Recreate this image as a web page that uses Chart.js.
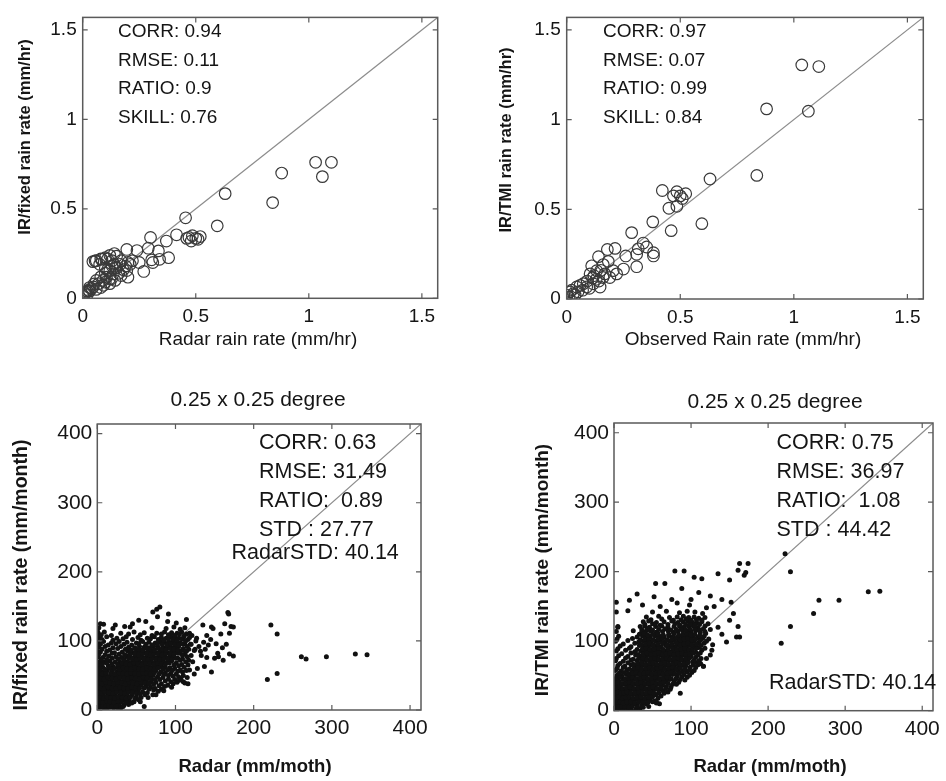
<!DOCTYPE html>
<html>
<head>
<meta charset="utf-8">
<script src="https://cdn.jsdelivr.net/npm/chart.js@4/dist/chart.umd.min.js"></script>
<style>
  html, body { margin: 0; padding: 0; background: #fff; }
  #wrap { position: relative; width: 946px; height: 781px; background: #fff; overflow: hidden; }
  canvas { position: absolute; }
</style>
</head>
<body>
<div id="wrap">
  <canvas id="p1" width="470" height="360" style="left:0;top:0"></canvas>
  <canvas id="p2" width="466" height="360" style="left:480px;top:0"></canvas>
  <canvas id="p3" width="470" height="411" style="left:0;top:370px"></canvas>
  <canvas id="p4" width="466" height="411" style="left:480px;top:370px"></canvas>
</div>
<script>
// --- tick labels and axis limits ---
const hourTicks = [0, 0.5, 1, 1.5];
const monthTicks = [0, 100, 200, 300, 400];
const hourOneToOne = [0, 1.57];
const monthOneToOne = [0, 414];

// --- IR/fixed vs radar, mm/hr ---
const fixedHourly = [
  [1.03,0.76],[1.10,0.76],[1.06,0.68],[0.88,0.70],[0.84,0.535],[0.63,0.585],[0.595,0.405],[0.455,0.45],
  [0.52,0.345],[0.50,0.335],[0.485,0.35],[0.46,0.335],[0.48,0.32],[0.51,0.33],[0.47,0.34],
  [0.415,0.355],[0.37,0.32],[0.38,0.227],[0.34,0.218],[0.335,0.265],[0.30,0.34],[0.31,0.20],[0.305,0.215],
  [0.29,0.28],[0.27,0.15],[0.24,0.267],[0.20,0.118],[0.195,0.273],[0.21,0.19],[0.195,0.155],[0.15,0.236],
  [0.165,0.19],[0.145,0.172],[0.12,0.155],[0.105,0.118],[0.10,0.227],[0.085,0.218],[0.055,0.209],[0.045,0.205],
  [0.075,0.19],[0.09,0.10],[0.07,0.082],[0.047,0.064],[0.025,0.045],[0.01,0.027],[0.015,0.035],[0.04,0.055],
  [0.135,0.136],[0.17,0.127],[0.12,0.082],[0.092,0.073],[0.143,0.10],[0.128,0.109],
  [0.06,0.21],[0.08,0.22],[0.11,0.22],[0.13,0.21],[0.12,0.24],[0.14,0.25],
  [0.05,0.08],[0.06,0.10],[0.08,0.12],[0.10,0.14],[0.11,0.16],[0.13,0.18],[0.15,0.17],[0.16,0.14],
  [0.18,0.16],[0.19,0.18],[0.20,0.20],[0.22,0.21],[0.25,0.20],[0.17,0.21],[0.14,0.19],[0.10,0.17],
  [0.03,0.04],[0.02,0.02],[0.005,0.01],[0.0,0.02],[0.03,0.06],[0.06,0.05],[0.08,0.06],[0.10,0.09],[0.12,0.11],[0.02,0.04]
];

// --- IR/TMI vs observed, mm/hr ---
const tmiHourly = [
  [1.035,1.305],[1.11,1.296],[0.88,1.06],[1.064,1.047],[0.837,0.689],[0.631,0.669],[0.595,0.42],
  [0.421,0.605],[0.485,0.598],[0.524,0.587],[0.509,0.56],[0.50,0.575],[0.47,0.575],[0.485,0.517],[0.45,0.506],
  [0.379,0.43],[0.46,0.381],[0.286,0.37],[0.337,0.312],[0.352,0.29],[0.382,0.258],[0.382,0.24],[0.315,0.28],
  [0.308,0.249],[0.26,0.24],[0.308,0.18],[0.25,0.167],[0.179,0.276],[0.213,0.282],[0.14,0.236],[0.11,0.185],
  [0.183,0.21],[0.205,0.158],[0.168,0.14],[0.142,0.10],[0.114,0.117],[0.073,0.085],[0.044,0.067],[0.022,0.049],
  [0.0,0.022],[0.0,0.004],[0.015,0.04],[0.059,0.076],[0.088,0.067],[0.117,0.085],[0.147,0.067],[0.07,0.049],
  [0.037,0.022],[0.01,0.01],[0.161,0.192],[0.132,0.158],[0.103,0.14],[0.19,0.12],[0.22,0.14],
  [0.03,0.03],[0.05,0.04],[0.09,0.10],[0.12,0.13],[0.15,0.16],[0.10,0.06],[0.13,0.11],[0.16,0.12]
];

// --- IR/fixed vs radar, mm/month ---
const fixedMonthly = [
  [1,2],[4,4],[8,3],[12,2],[16,4],[21,3],[27,2],[30,3],
  [1,9],[5,8],[9,10],[14,8],[18,10],[23,9],[28,8],[34,7],[40,8],
  [2,15],[6,14],[10,16],[15,15],[20,14],[25,16],[30,15],[35,14],[41,13],[47,12],[55,12],
  [1,21],[5,22],[9,20],[14,21],[19,22],[24,20],[29,21],[34,22],[39,20],[44,21],[50,19],[56,18],[65,18],
  [3,28],[7,27],[12,29],[17,28],[22,27],[27,29],[32,28],[37,27],[42,29],[47,28],[52,27],[58,26],[64,25],[71,22],[75,22],
  [1,35],[6,34],[11,36],[16,35],[21,34],[26,36],[31,35],[36,34],[41,36],[46,35],[51,34],[56,36],[62,34],[68,33],[74,31],[82,30],[85,28],
  [3,42],[8,41],[13,43],[18,42],[23,41],[28,43],[33,42],[38,41],[43,43],[48,42],[53,41],[58,43],[63,42],[69,41],[75,40],[82,38],[90,36],[97,38],[95,33],
  [1,49],[6,48],[11,50],[16,49],[21,48],[26,50],[31,49],[36,48],[41,50],[46,49],[51,48],[56,50],[61,49],[66,48],[71,50],[77,48],[84,47],[91,45],[99,44],[107,45],
  [3,56],[8,55],[13,57],[19,56],[25,55],[30,57],[35,56],[40,55],[45,57],[50,56],[55,55],[60,57],[65,56],[70,55],[75,57],[81,55],[87,54],[94,53],[101,52],[110,50],
  [1,63],[7,62],[14,64],[20,63],[26,62],[31,64],[36,63],[41,62],[46,64],[51,63],[56,62],[61,64],[66,63],[71,62],[76,64],[81,63],[87,62],[93,61],[99,60],[106,58],[114,57],
  [3,70],[9,69],[16,71],[23,70],[29,69],[34,71],[39,70],[44,69],[49,71],[54,70],[59,69],[64,71],[69,70],[74,69],[79,71],[84,70],[89,69],[95,71],[101,68],[108,66],[116,65],
  [1,77],[7,76],[15,78],[24,77],[31,76],[37,78],[42,77],[47,76],[52,78],[57,77],[62,76],[67,78],[72,77],[77,76],[82,78],[87,77],[92,76],[97,78],[103,75],[109,74],[117,72],
  [4,84],[12,85],[22,83],[32,84],[39,85],[45,83],[50,84],[55,85],[60,83],[65,84],[70,85],[75,83],[80,84],[85,85],[90,83],[95,84],[100,85],[106,82],[112,81],[120,79],
  [2,91],[10,92],[20,90],[30,92],[40,91],[48,90],[54,92],[60,91],[66,90],[72,92],[78,91],[84,90],[89,92],[94,91],[99,90],[104,92],[110,89],[117,88],[124,86],
  [1,98],[8,99],[18,97],[28,99],[38,98],[50,97],[58,99],[66,98],[74,97],[80,99],[86,98],[91,97],[96,99],[101,98],[106,97],[112,96],[119,95],
  [3,105],[12,106],[25,104],[37,106],[52,105],[64,104],[73,106],[82,105],[88,104],[94,106],[99,105],[104,104],[110,103],[116,102],
  [1,112],[9,113],[30,111],[47,113],[60,112],[76,111],[86,113],[95,112],[102,111],[108,113],[114,110],[121,108],
  [2,119],[20,118],[42,120],[70,119],[88,118],[98,120],[106,117],[112,119],
  [3,6],[7,5],[11,7],[15,6],[19,5],[24,6],[33,5],
  [3,12],[7,11],[12,13],[16,12],[21,11],[26,13],[31,12],[37,11],[44,10],
  [4,18],[8,17],[12,19],[17,18],[22,17],[27,19],[32,18],[37,17],[42,18],[48,16],[53,15],
  [2,25],[6,24],[10,26],[15,25],[20,24],[25,26],[30,25],[35,24],[40,26],[45,25],[50,24],[55,23],[61,22],
  [4,32],[9,31],[14,33],[19,32],[24,31],[29,33],[34,32],[39,31],[44,33],[49,32],[54,31],[60,32],[66,30],[72,29],[78,27],
  [1,39],[6,38],[11,40],[16,39],[21,38],[26,40],[31,39],[36,38],[41,40],[46,39],[51,38],[56,40],[61,39],[66,38],[72,37],[79,35],[86,34],
  [4,46],[9,45],[14,47],[19,46],[24,45],[29,47],[34,46],[39,45],[44,47],[49,46],[54,45],[59,47],[64,46],[69,45],[74,44],[80,44],[87,42],[94,41],[102,40],
  [1,53],[6,52],[11,54],[17,53],[22,52],[28,54],[33,53],[38,52],[43,54],[48,53],[53,52],[58,54],[63,53],[68,52],[73,54],[79,52],[85,51],[91,50],[97,49],[104,48],
  [4,60],[10,59],[16,61],[22,60],[28,59],[33,61],[38,60],[43,59],[48,61],[53,60],[58,59],[63,61],[68,60],[73,59],[78,61],[84,59],[90,58],[96,57],[103,56],[109,55],
  [1,67],[6,66],[12,68],[19,67],[26,66],[32,68],[37,67],[42,66],[47,68],[52,67],[57,66],[62,68],[67,67],[72,66],[77,68],[82,67],[87,66],[92,68],[98,65],[104,64],[111,62],
  [5,74],[12,73],[19,75],[27,74],[34,73],[40,75],[45,74],[50,73],[55,75],[60,74],[65,73],[70,75],[75,74],[80,73],[85,75],[90,74],[95,73],[100,75],[106,72],[113,70],
  [2,81],[10,80],[19,82],[28,81],[35,80],[42,82],[48,81],[53,80],[58,82],[63,81],[68,80],[73,82],[78,81],[83,80],[88,82],[93,81],[98,80],[103,82],[109,79],[115,77],
  [6,88],[16,87],[26,89],[36,88],[43,87],[48,89],[53,88],[58,87],[63,89],[68,88],[73,87],[78,89],[83,88],[88,87],[93,89],[98,88],[103,87],[108,86],[114,85],
  [4,95],[14,94],[24,96],[34,95],[44,94],[53,96],[62,95],[70,94],[77,96],[83,95],[89,94],[94,96],[99,95],[104,94],[109,96],[115,92],
  [6,102],[20,101],[33,103],[45,102],[56,101],[68,103],[78,102],[85,101],[91,103],[97,102],[102,101],[108,103],[113,100],
  [5,109],[18,108],[40,110],[55,109],[70,108],[82,110],[91,109],[99,108],[105,110],[111,107],[118,105],
  [0,5],[0,15],[0,25],[0,40],[0,55],[0,70],[0,85],[0,100],[0,115],[2,108],
  [4,125],[23,123],[35,121],[53,130],[76,146],[77,135],[71,142],[80,149],[91,139],[101,126],[114,131],[62,128],[45,125],[90,128],[8,124],
  [110,41],[112,39],[105,43],[116,38],[127,104],[118,111],[133,79],[137,63],[140,76],[140,108],[142,94],[135,123],[146,120],[146,55],
  [148,118],[150,75],[154,82],[155,77],[161,72],[163,125],[167,141],[168,139],[169,111],[169,81],[171,121],[174,78],[174,120],
  [120,95],[125,88],[130,92],[122,70],[128,60],[132,85],[126,100],[136,98],[118,58],[124,52],[115,47],[138,88],[145,102],[152,96],[160,90],[158,110],[165,95],
  [60,5],[217.5,44],[222,123],[230,110],[230,53],[261,77],[267,74],[293,77],[330,81],[345,80]
];

// --- IR/TMI vs radar, mm/month ---
const tmiMonthly = [
  [1,2],[4,4],[8,3],[12,2],[17,4],[22,3],[28,2],[34,3],
  [2,9],[6,8],[10,10],[15,9],[20,8],[25,10],[30,9],[36,8],[42,10],[55,11],[59,10],
  [1,16],[5,15],[9,17],[13,16],[17,15],[22,17],[27,16],[32,15],[37,17],[42,16],[47,15],[53,14],
  [3,23],[7,22],[11,24],[15,23],[19,22],[24,24],[29,23],[34,22],[39,24],[44,23],[49,22],[55,23],[61,21],[86,25],
  [1,30],[5,29],[9,31],[13,30],[18,29],[23,31],[28,30],[33,29],[38,31],[43,30],[48,29],[53,31],[58,30],[64,28],[70,27],
  [3,37],[8,36],[13,38],[18,37],[23,36],[28,38],[33,37],[38,36],[43,38],[48,37],[53,36],[58,38],[63,37],[68,35],[74,34],
  [1,44],[6,43],[12,45],[17,44],[22,43],[27,45],[32,44],[37,43],[42,45],[47,44],[52,43],[57,45],[62,44],[67,43],[72,45],[78,42],[84,41],
  [4,51],[10,50],[16,52],[21,51],[26,50],[31,52],[36,51],[41,50],[46,52],[51,51],[56,50],[61,52],[66,51],[71,50],[76,52],[82,50],[88,49],[95,48],
  [2,58],[9,57],[17,59],[23,58],[28,57],[33,59],[38,58],[43,57],[48,59],[53,58],[58,57],[63,59],[68,58],[73,57],[78,59],[83,58],[89,57],[95,56],[101,55],
  [5,65],[14,64],[22,66],[28,65],[33,64],[38,66],[43,65],[48,64],[53,66],[58,65],[63,64],[68,66],[73,65],[78,64],[83,66],[88,65],[93,64],[99,63],[106,62],[116,64],
  [2,72],[12,71],[22,73],[30,72],[36,71],[41,73],[46,72],[51,71],[56,73],[61,72],[66,71],[71,73],[76,72],[81,71],[86,73],[91,72],[96,71],[102,70],[108,69],[112,68],
  [6,79],[18,78],[28,80],[35,79],[40,78],[45,80],[50,79],[55,78],[60,80],[65,79],[70,78],[75,80],[80,79],[85,78],[90,80],[95,79],[100,78],[106,77],[113,75],
  [3,86],[15,87],[27,85],[35,86],[40,87],[45,85],[50,86],[55,87],[60,85],[65,86],[70,87],[75,85],[80,86],[85,87],[90,85],[95,86],[100,87],[106,84],[112,83],[127,87],
  [8,93],[22,92],[33,94],[39,93],[44,92],[49,94],[55,93],[61,92],[67,94],[73,93],[79,92],[84,94],[89,93],[94,92],[99,94],[104,93],[110,91],[118,90],
  [2,100],[18,101],[32,99],[38,100],[43,101],[48,99],[54,100],[60,101],[66,99],[72,100],[78,101],[84,99],[89,100],[94,101],[99,99],[104,100],[110,98],[117,97],[146,99],
  [6,107],[30,106],[37,108],[42,107],[47,106],[53,108],[59,107],[65,106],[71,108],[77,107],[83,106],[88,108],[93,107],[98,106],[103,108],[109,105],[115,104],[123,103],
  [3,114],[25,115],[36,113],[41,114],[47,115],[55,113],[63,114],[70,115],[77,113],[83,114],[89,115],[95,113],[100,114],[106,115],[112,112],[119,111],
  [5,120],[34,121],[40,122],[46,120],[54,121],[62,122],[70,120],[78,121],[85,122],[91,120],[97,121],[103,122],[109,119],[116,118],[125,117],
  [38,128],[45,129],[55,127],[65,128],[75,129],[83,127],[90,128],[96,129],[102,127],[108,126],[114,128],[122,125],
  [42,135],[58,136],[72,134],[82,135],[90,136],[97,134],[104,135],[110,133],[118,134],
  [3,142],[18,144],[50,142],[68,143],[85,141],[95,143],[105,142],[115,140],
  [3,6],[6,5],[10,7],[14,6],[19,5],[24,7],[30,6],[38,5],[45,6],
  [3,12],[8,13],[12,11],[17,12],[22,13],[27,11],[32,12],[38,13],[44,12],[50,13],
  [3,19],[7,20],[11,18],[15,19],[20,20],[25,18],[30,19],[35,20],[40,18],[45,19],[50,20],[57,18],
  [1,26],[5,27],[9,25],[13,26],[17,27],[22,25],[27,26],[32,27],[37,25],[42,26],[47,27],[52,25],[58,26],[65,25],
  [3,33],[7,34],[11,32],[16,33],[21,34],[26,32],[31,33],[36,34],[41,32],[46,33],[51,34],[56,32],[61,33],[67,32],[73,31],
  [1,40],[5,41],[10,39],[15,40],[20,41],[25,39],[30,40],[35,41],[40,39],[45,40],[50,41],[55,39],[60,40],[65,41],[70,39],[76,38],[81,38],
  [3,47],[8,48],[14,46],[19,47],[24,48],[29,46],[34,47],[39,48],[44,46],[49,47],[54,48],[59,46],[64,47],[69,48],[74,46],[80,46],[86,45],[92,44],
  [7,54],[13,55],[19,53],[24,54],[29,55],[34,53],[39,54],[44,55],[49,53],[54,54],[59,55],[64,53],[69,54],[74,55],[79,53],[85,54],[91,52],[98,51],
  [4,61],[12,62],[20,60],[26,61],[31,62],[36,60],[41,61],[46,62],[51,60],[56,61],[61,62],[66,60],[71,61],[76,62],[81,60],[86,61],[92,60],[98,59],[104,58],
  [8,68],[18,69],[25,67],[31,68],[36,69],[41,67],[46,68],[51,69],[56,67],[61,68],[66,69],[71,67],[76,68],[81,69],[86,67],[91,68],[96,69],[103,66],[109,66],
  [3,75],[15,76],[25,74],[32,75],[38,76],[43,74],[48,75],[53,76],[58,74],[63,75],[68,76],[73,74],[78,75],[83,76],[88,74],[93,75],[98,76],[104,73],[110,72],
  [10,82],[22,83],[31,81],[38,82],[43,83],[48,81],[53,82],[58,83],[63,81],[68,82],[73,83],[78,81],[83,82],[88,83],[93,81],[98,82],[103,83],[109,80],
  [5,89],[20,90],[30,88],[37,89],[42,90],[47,88],[52,89],[58,90],[64,88],[70,89],[76,90],[82,88],[87,89],[92,90],[97,88],[102,89],[107,90],[114,87],
  [12,96],[27,97],[35,95],[41,96],[46,97],[51,95],[57,96],[63,97],[69,95],[75,96],[81,97],[86,95],[91,96],[96,97],[101,95],[107,96],[113,94],
  [4,103],[24,104],[34,102],[40,103],[45,104],[51,102],[57,103],[63,104],[69,102],[75,103],[81,104],[86,102],[91,103],[96,104],[101,102],[106,103],[112,101],[120,100],
  [33,110],[39,111],[44,109],[50,110],[57,111],[64,109],[71,110],[78,111],[84,109],[90,110],[95,111],[100,109],[105,110],[111,108],[117,107],
  [36,117],[43,118],[50,116],[58,117],[66,118],[74,116],[81,117],[87,118],[93,116],[99,117],[105,118],[111,116],[118,114],
  [40,124],[50,125],[60,123],[70,124],[79,125],[86,123],[93,124],[99,125],[105,123],[111,124],[118,122],
  [48,131],[62,132],[77,130],[87,131],[94,132],[100,130],[107,131],[114,130],
  [3,156],[20,159],[30,168],[37,152],[52,164],[54,183],[66,183],[79,201],[91,201],[88,176],[104,192],[114,190],[135,197],
  [150,188],[152,156],[163,212],[174,212],[171,199],[161,202],[169,195],[60,150],[75,160],[100,160],[110,170],[125,165],
  [130,150],[140,160],[98,152],[82,155],[120,148],[5,121],
  [161,121],[163,106],[159,106],[112,68],[116,64],[140,110],[135,120],[128,95],[150,130],[155,140],[125,80],[120,75],[55,13],
  [217,97],[222,226],[229,200],[229,121],[259,140],[266,159],[292,159],[330,171],[345,172]
];

const FONT = '"Liberation Sans", Arial, Helvetica, sans-serif';
Chart.defaults.font.family = FONT;
Chart.defaults.color = '#151515';

// text is placed in page coordinates, shifted into each canvas
const panels = [
  {
    id: 'p1', left: 0, top: 0, yw: 82.7, xh: 61.7, padTop: 11.7, padRight: 32.3,
    points: fixedHourly, ticks: hourTicks, line: hourOneToOne, radius: 5.8, circles: true,
    tickFont: 19, tickPadX: 7, tickPadY: 6,
    texts: [
      { t: 'CORR: 0.94', x: 118, y: 32, size: 19 },
      { t: 'RMSE: 0.11', x: 118, y: 60.5, size: 19 },
      { t: 'RATIO: 0.9', x: 118, y: 89, size: 19 },
      { t: 'SKILL: 0.76', x: 118, y: 117.5, size: 19 },
      { t: 'Radar rain rate (mm/hr)', x: 258, y: 340, size: 19, align: 'center' },
      { t: 'IR/fixed rain rate (mm/hr)', x: 25, y: 137, size: 16.5, bold: true, rot: true }
    ]
  },
  {
    id: 'p2', left: 480, top: 0, yw: 86.7, xh: 61, padTop: 11.7, padRight: 22.7,
    points: tmiHourly, ticks: hourTicks, line: hourOneToOne, radius: 5.8, circles: true,
    tickFont: 19, tickPadX: 7, tickPadY: 6,
    texts: [
      { t: 'CORR: 0.97', x: 603, y: 32, size: 19 },
      { t: 'RMSE: 0.07', x: 603, y: 60.5, size: 19 },
      { t: 'RATIO: 0.99', x: 603, y: 89, size: 19 },
      { t: 'SKILL: 0.84', x: 603, y: 117.5, size: 19 },
      { t: 'Observed Rain rate (mm/hr)', x: 743, y: 340, size: 19, align: 'center' },
      { t: 'IR/TMI rain rate (mm/hr)', x: 506, y: 140, size: 16.5, bold: true, rot: true }
    ]
  },
  {
    id: 'p3', left: 0, top: 370, yw: 97.3, xh: 71, padTop: 54, padRight: 49,
    points: fixedMonthly, ticks: monthTicks, line: monthOneToOne, radius: 2.5, circles: false,
    tickFont: 21, tickPadX: 6, tickPadY: 5,
    texts: [
      { t: '0.25 x 0.25 degree', x: 258, y: 400, size: 21, align: 'center' },
      { t: 'CORR: 0.63', x: 259, y: 443, size: 21.5 },
      { t: 'RMSE: 31.49', x: 259, y: 472, size: 21.5 },
      { t: 'RATIO:  0.89', x: 259, y: 501, size: 21.5 },
      { t: 'STD : 27.77', x: 259, y: 530, size: 21.5 },
      { t: 'RadarSTD: 40.14', x: 231.5, y: 553, size: 21.5 },
      { t: 'Radar (mm/moth)', x: 255, y: 767, size: 18.5, bold: true, align: 'center' },
      { t: 'IR/fixed rain rate (mm/month)', x: 22, y: 575, size: 19.5, bold: true, rot: true }
    ]
  },
  {
    id: 'p4', left: 480, top: 370, yw: 134, xh: 70.3, padTop: 53, padRight: 7.7,
    points: tmiMonthly, ticks: monthTicks, line: monthOneToOne, radius: 2.5, circles: false,
    tickFont: 21, tickPadX: 6, tickPadY: 5,
    texts: [
      { t: '0.25 x 0.25 degree', x: 775, y: 402, size: 21, align: 'center' },
      { t: 'CORR: 0.75', x: 776.5, y: 443, size: 21.5 },
      { t: 'RMSE: 36.97', x: 776.5, y: 472, size: 21.5 },
      { t: 'RATIO:  1.08', x: 776.5, y: 501, size: 21.5 },
      { t: 'STD : 44.42', x: 776.5, y: 530, size: 21.5 },
      { t: 'RadarSTD: 40.14', x: 769, y: 683.5, size: 21.5 },
      { t: 'Radar (mm/moth)', x: 770, y: 767, size: 18.5, bold: true, align: 'center' },
      { t: 'IR/TMI rain rate (mm/month)', x: 543, y: 570, size: 19, bold: true, rot: true }
    ]
  }
];

// box, inward ticks and free text, drawn after the datasets
const framePlugin = {
  id: 'frame',
  afterDraw(chart, args, opts) {
    const p = opts.panel;
    const { ctx, chartArea: a } = chart;
    const xs = chart.scales.x, ys = chart.scales.y;
    ctx.save();
    ctx.strokeStyle = '#5a5a5a';
    ctx.lineWidth = 1.5;
    ctx.strokeRect(a.left, a.top, a.right - a.left, a.bottom - a.top);
    ctx.lineWidth = 1.2;
    const len = 5;
    p.ticks.forEach(v => {
      const px = xs.getPixelForValue(v);
      const py = ys.getPixelForValue(v);
      ctx.beginPath();
      ctx.moveTo(px, a.bottom); ctx.lineTo(px, a.bottom - len);
      ctx.moveTo(px, a.top); ctx.lineTo(px, a.top + len);
      ctx.moveTo(a.left, py); ctx.lineTo(a.left + len, py);
      ctx.moveTo(a.right, py); ctx.lineTo(a.right - len, py);
      ctx.stroke();
    });
    ctx.fillStyle = '#151515';
    ctx.textBaseline = 'middle';
    p.texts.forEach(tx => {
      ctx.font = (tx.bold ? 'bold ' : '') + tx.size + 'px ' + FONT;
      ctx.textAlign = tx.rot ? 'center' : (tx.align || 'left');
      const x = tx.x - p.left, y = tx.y - p.top;
      if (tx.rot) {
        ctx.save();
        ctx.translate(x, y);
        ctx.rotate(-Math.PI / 2);
        ctx.fillText(tx.t, 0, 0);
        ctx.restore();
      } else {
        ctx.fillText(tx.t, x, y);
      }
    });
    ctx.restore();
  }
};

const makePanel = (p) => {
  const axisMax = p.line[1];
  const tickSetup = (scale) => { scale.ticks = p.ticks.map(v => ({ value: v })); };
  new Chart(document.getElementById(p.id), {
    type: 'scatter',
    data: {
      datasets: [
        {
          type: 'line',
          data: p.line.map(v => ({ x: v, y: v })),
          borderColor: '#8c8c8c',
          borderWidth: 1.2,
          pointRadius: 0,
          fill: false,
          order: 2
        },
        {
          data: p.points.map(([x, y]) => ({ x, y })),
          pointRadius: p.radius,
          pointHoverRadius: p.radius,
          pointStyle: 'circle',
          pointBorderWidth: p.circles ? 1.2 : 0,
          pointBorderColor: p.circles ? '#3a3a3a' : '#111',
          pointBackgroundColor: p.circles ? 'rgba(0,0,0,0)' : '#111',
          order: 1
        }
      ]
    },
    options: {
      responsive: false,
      animation: false,
      devicePixelRatio: 1,
      layout: { padding: { left: 0, top: p.padTop, right: p.padRight, bottom: 0 } },
      plugins: { legend: { display: false }, tooltip: { enabled: false }, frame: { panel: p } },
      scales: {
        x: {
          type: 'linear', min: 0, max: axisMax,
          grid: { display: false, drawTicks: false },
          border: { display: false },
          afterBuildTicks: tickSetup,
          afterFit: (scale) => { scale.height = p.xh; },
          ticks: { padding: p.tickPadX, font: { size: p.tickFont }, maxRotation: 0, autoSkip: false,
                   callback: (v) => String(v) }
        },
        y: {
          type: 'linear', min: 0, max: axisMax,
          grid: { display: false, drawTicks: false },
          border: { display: false },
          afterBuildTicks: tickSetup,
          afterFit: (scale) => { scale.width = p.yw; },
          ticks: { padding: p.tickPadY, font: { size: p.tickFont }, autoSkip: false,
                   callback: (v) => String(v) }
        }
      }
    },
    plugins: [framePlugin]
  });
};

panels.forEach(makePanel);
</script>
</body>
</html>
